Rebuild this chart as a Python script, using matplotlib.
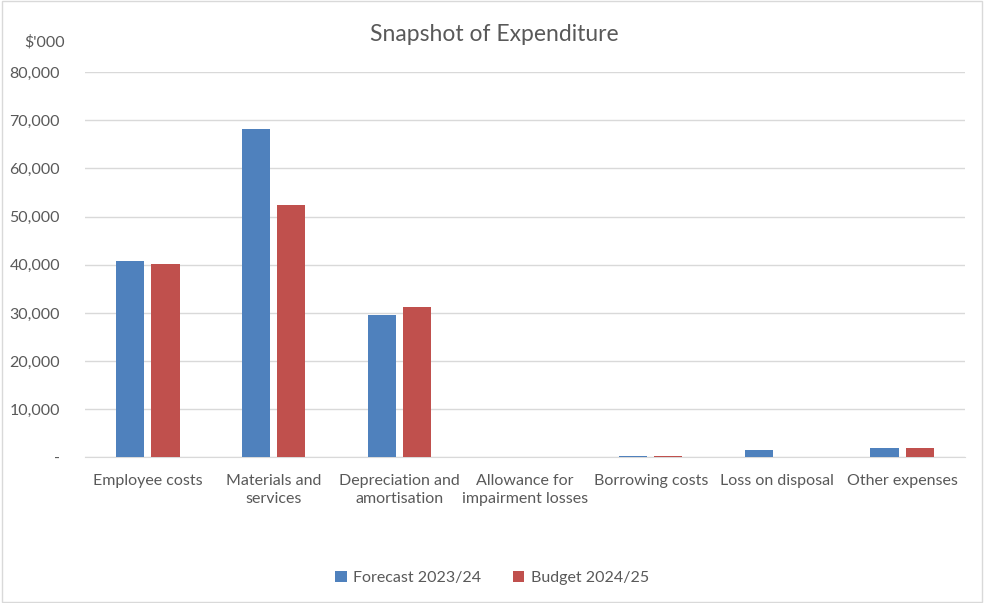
import matplotlib.pyplot as plt
from matplotlib.ticker import FuncFormatter
import numpy as np

plt.rcParams['font.family'] = ['Lato', 'DejaVu Sans']

categories = ["Employee costs", "Materials and\nservices", "Depreciation and\namortisation",
              "Allowance for\nimpairment losses", "Borrowing costs", "Loss on disposal",
              "Other expenses"]
forecast_2324 = [40800, 68100, 29500, 0, 300, 1500, 1900]
budget_2425 = [40200, 52300, 31300, 0, 400, 0, 1900]

blue = "#4F81BD"
red = "#C0504D"
text_col = "#595959"
grid_col = "#D9D9D9"

fig = plt.figure(figsize=(9.84, 6.03), dpi=100)
ax = fig.add_axes([0.0864, 0.2413, 0.8943, 0.6393])

x = np.arange(len(categories))
w = 0.225
ax.bar(x - 0.14, forecast_2324, w, color=blue, label="Forecast 2023/24", zorder=3)
ax.bar(x + 0.14, budget_2425, w, color=red, label="Budget 2024/25", zorder=3)

ax.set_xlim(-0.5, len(categories) - 0.5)
ax.set_ylim(0, 80000)
ax.set_yticks(range(0, 80001, 10000))
ax.yaxis.set_major_formatter(FuncFormatter(lambda v, p: "-" if v == 0 else f"{int(v):,}"))
ax.grid(axis='y', color=grid_col, linewidth=1, zorder=0)
ax.set_xticks(x)
ax.set_xticklabels(categories, fontsize=11.5, color=text_col, linespacing=1.35)
ax.tick_params(axis='both', length=0, colors=text_col)
ax.tick_params(axis='y', labelsize=11.5, pad=18)
ax.tick_params(axis='x', labelsize=11.5, pad=12)
for s in ['top', 'right', 'left']:
    ax.spines[s].set_visible(False)
ax.spines['bottom'].set_color(grid_col)

fig.text(0.502, 0.943, "Snapshot of Expenditure", ha='center', va='center',
         fontsize=16.5, color=text_col)
fig.text(0.045, 0.93, "$'000", ha='center', va='center', fontsize=11.5, color=text_col)

fig.legend(loc='center', bbox_to_anchor=(0.5, 0.042), ncol=2, frameon=False,
           fontsize=11.5, handlelength=0.7, handleheight=0.7, columnspacing=2.0,
           handletextpad=0.4, labelcolor=text_col)

# light border round the chart area
fig.patches.append(plt.Rectangle((0.002, 0.002), 0.996, 0.996, transform=fig.transFigure,
                                 fill=False, edgecolor=grid_col, linewidth=1))

fig.savefig("out.png", dpi=100)
